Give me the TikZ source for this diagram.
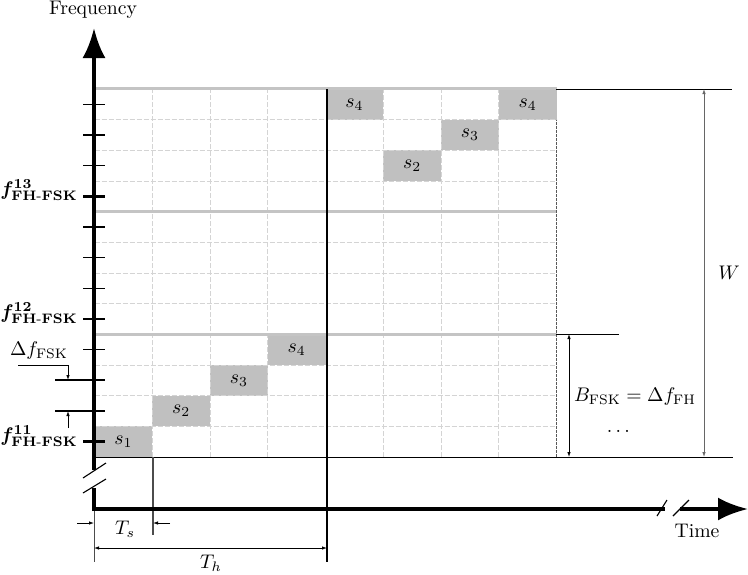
\documentclass[tikz,border=0pt]{standalone}
\usepackage{amsmath,bm}
\usetikzlibrary{arrows.meta}
\definecolor{cellgray}{HTML}{C0C0C0}
\definecolor{thickgray}{HTML}{C4C4C4}
\definecolor{dashgray}{HTML}{D4D4D4}
\begin{document}
\begin{tikzpicture}[x=1pt,y=-1pt,
  every node/.append style={scale=1.97},
  axis/.style={line width=4pt},
  griddash/.style={dashgray,line width=0.9pt,dash pattern=on 5pt off 2pt},
  gridthick/.style={thickgray,line width=3pt},
  thinline/.style={black,line width=1pt},
  tickthin/.style={black,line width=1.1pt},
  tickthick/.style={black,line width=2.6pt},
  dimarrow/.style={line width=0.8pt,-{Latex[length=5pt,width=3.5pt]}},
  dimboth/.style={line width=0.8pt,{Latex[length=5pt,width=3.5pt]}-{Latex[length=5pt,width=3.5pt]}},
  brk/.style={black,line width=1.1pt},
  flabel/.style={anchor=east,inner sep=0pt}]
\useasboundingbox (0,0) rectangle (748,574);

% grid
\begin{scope}[shift={(94.5pt,-457pt)}, x=57.75pt, y=30.67pt]
  \foreach \i/\j/\k in {0/0/1,1/1/2,2/2/3,3/3/4,4/11/4,5/9/2,6/10/3,7/11/4}
    \fill[cellgray] (\i,\j) rectangle ++(1,1);
  \foreach \j in {1,2,3,5,6,7,9,10,11} \draw[griddash] (0,\j) -- (8,\j);
  \foreach \i in {1,2,3,5,6,7} \draw[griddash] (\i,0) -- (\i,12);
  \foreach \j in {4,8,12} \draw[gridthick] (0,\j) -- (8,\j);
  \draw[black!65,line width=1.1pt,dash pattern=on 3pt off 1pt] (8,0) -- (8,11);
  \foreach \i/\j/\k in {0/0/1,1/1/2,2/2/3,3/3/4,4/11/4,5/9/2,6/10/3,7/11/4}
    \node (cell\i) at (\i+0.5,\j+0.5) {$s_{\k}$};
\end{scope}

% frame lines
\coordinate (bl) at (94,457);
\coordinate (br) at (733,457);
\coordinate (tl) at (556,89);
\coordinate (tr) at (732,89);
\coordinate (ml) at (556,334);
\coordinate (mr) at (619,334);
\draw[thinline] (bl) -- (br);
\draw[thinline] (tl) -- (tr);
\draw[thinline] (ml) -- (mr);
\coordinate (hopT) at (327,89);
\coordinate (hopB) at (327,562);
\draw[black,line width=1.5pt] (hopT) -- (hopB);
\coordinate (tsT) at (153,457);
\coordinate (tsB) at (153,535);
\draw[black!70,line width=1.1pt] (tsT) -- (tsB);
\coordinate (orT) at (94,509);
\coordinate (orB) at (94,562);
\draw[black!70,line width=1pt] (orT) -- (orB);

% axes
\coordinate (yA) at (94,511);
\coordinate (yB) at (94,488);
\coordinate (yC) at (94,470);
\coordinate (yTop) at (94,28);
\draw[axis] (yA) -- (yB);
\draw[axis,-{Latex[length=30pt,width=23pt]}] (yC) -- (yTop);
\coordinate (xA) at (92,509);
\coordinate (xB) at (665,509);
\coordinate (xC) at (680,509);
\coordinate (xEnd) at (748,509);
\draw[axis] (xA) -- (xB);
\draw[axis,-{Latex[length=30pt,width=23pt]}] (xC) -- (xEnd);
\draw[brk] (83,478) -- (106,463);
\draw[brk] (83,493) -- (106,479);
\draw[brk] (657,516) -- (667,500);
\draw[brk] (673,516) -- (689,500);

\node (freq) at (93,10) {Frequency};
\node (time) at (697,531) {Time};

% ticks
\foreach \j in {1,2,3,5,6,7,9,10,11}
  \draw[tickthin] (83,{457-30.67*(\j+0.5)}) -- (105,{457-30.67*(\j+0.5)});
\foreach \j in {0,4,8}
  \draw[tickthick] (83,{457-30.67*(\j+0.5)}) -- (105,{457-30.67*(\j+0.5)});

\node[flabel] (f11) at (78,436) {$\bm{f}^{\mathbf{11}}_{\mathbf{FH\text{-}FSK}}$};
\node[flabel] (f12) at (78,313) {$\bm{f}^{\mathbf{12}}_{\mathbf{FH\text{-}FSK}}$};
\node[flabel] (f13) at (78,190) {$\bm{f}^{\mathbf{13}}_{\mathbf{FH\text{-}FSK}}$};

% delta f FSK dimension
\coordinate (d1L) at (55,380);
\coordinate (d1R) at (105,380);
\coordinate (d2L) at (55,411);
\coordinate (d2R) at (105,411);
\draw[tickthin] (d1L) -- (d1R);
\draw[tickthin] (d2L) -- (d2R);
\node (dfsk) at (39,351) {$\Delta f_{\text{FSK}}$};
\coordinate (u1) at (18,365);
\coordinate (u2) at (68,365);
\coordinate (u3) at (68,380);
\draw[line width=0.8pt] (u1) -- (u2);
\draw[dimarrow] (u2) -- (u3);
\coordinate (v1) at (68,428);
\coordinate (v2) at (68,411);
\draw[dimarrow] (v1) -- (v2);

% Ts
\coordinate (ts1) at (77,523);
\coordinate (ts2) at (94,523);
\coordinate (ts3) at (170,523);
\coordinate (ts4) at (153,523);
\draw[dimarrow] (ts1) -- (ts2);
\draw[dimarrow] (ts3) -- (ts4);
\node (Ts) at (125,529) {$T_s$};

% Th
\coordinate (th1) at (94,548);
\coordinate (th2) at (327,548);
\draw[dimboth] (th1) -- (th2);
\node (Th) at (211,563) {$T_h$};

% W
\coordinate (w1) at (704,89);
\coordinate (w2) at (704,457);
\draw[dimboth,black!60] (w1) -- (w2);
\node (W) at (729,273) {$W$};

% B_FSK
\coordinate (b1) at (569,334);
\coordinate (b2) at (569,457);
\draw[dimboth] (b1) -- (b2);
\node (bfsk) at (635,397) {$B_{\text{FSK}}=\Delta f_{\text{FH}}$};
\node (dots) at (620,431) {$\dots$};
\end{tikzpicture}
\end{document}
